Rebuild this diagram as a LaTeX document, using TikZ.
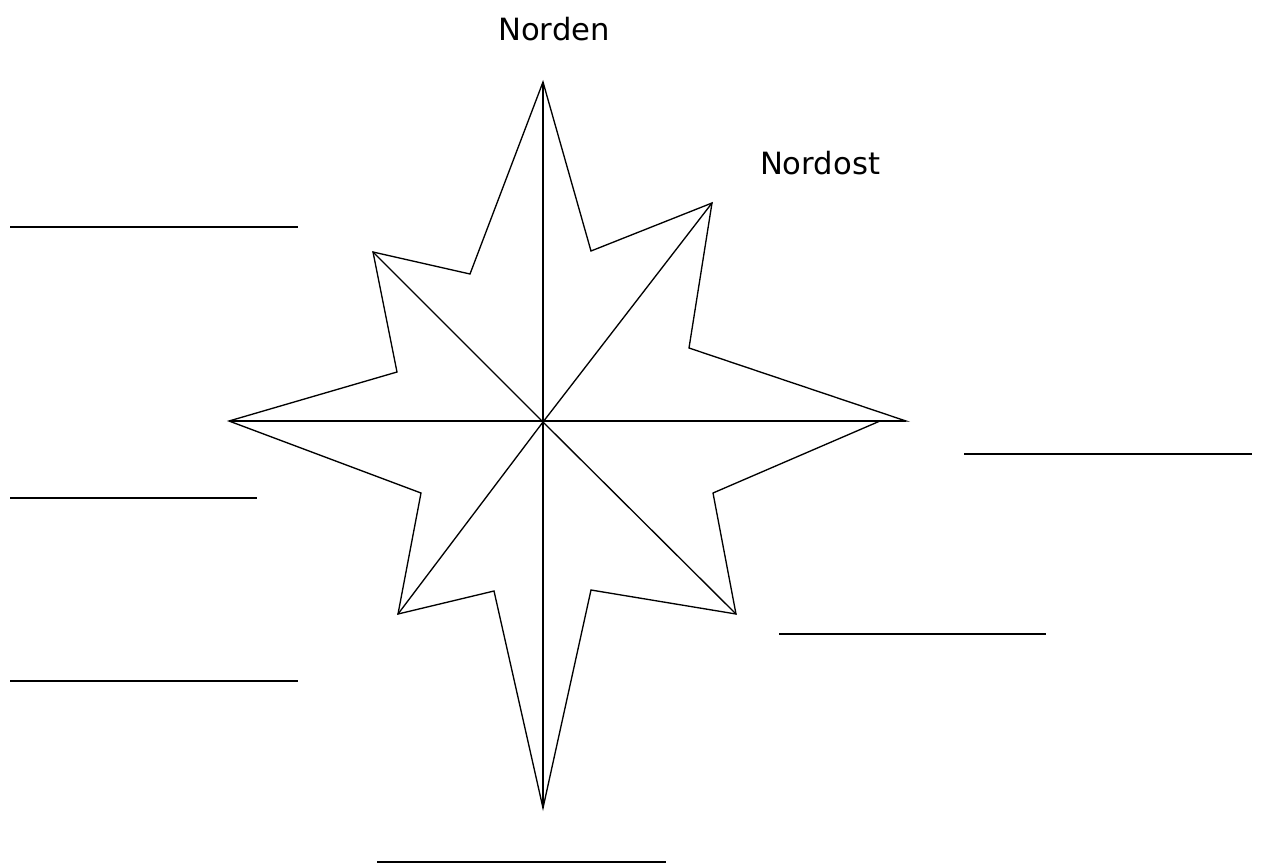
\documentclass[tikz,border=0pt]{standalone}
\usepackage{fontspec}
\setmainfont{DejaVu Sans}
\tikzset{
  starline/.style={line width=1pt, line join=miter},
  blankline/.style={line width=1.6pt},
  direction/.style={font=\fontsize{23}{26}\selectfont, inner sep=0pt}
}
\begin{document}
\begin{tikzpicture}[x=0.75pt,y=-0.75pt]
  \useasboundingbox (0,0) rectangle (1261,865);
  % tips and inner corners of the star
  \coordinate (c) at (543,422);
  \coordinate (N) at (543,82);
  \coordinate (nne) at (591,251);
  \coordinate (NE) at (712,203);
  \coordinate (ene) at (689,348);
  \coordinate (E) at (906,421);
  \coordinate (e2) at (880,421);
  \coordinate (ese) at (713,493);
  \coordinate (SE) at (736,614);
  \coordinate (sse) at (591,590);
  \coordinate (S) at (543,808);
  \coordinate (ssw) at (494,591);
  \coordinate (SW) at (398,614);
  \coordinate (wsw) at (421,493);
  \coordinate (W) at (229,421);
  \coordinate (wnw) at (397,372);
  \coordinate (NW) at (373,252);
  \coordinate (nnw) at (470,274);
  \draw[starline] (N) -- (nne) -- (NE) -- (ene) -- (E) -- (e2) -- (ese) -- (SE)
    -- (sse) -- (S) -- (ssw) -- (SW) -- (wsw) -- (W) -- (wnw) -- (NW) -- (nnw) -- cycle;
  \draw[starline] (N) -- (S);
  \draw[starline] (W) -- (E);
  \draw[starline] (NW) -- (c) -- (SE);
  \draw[starline] (NE) -- (c) -- (SW);
  % labels
  \node[direction] (norden) at (554,29) {Norden};
  \node[direction] (nordost) at (820,163) {Nordost};
  % empty lines to fill in
  \foreach \xa/\xb/\y [count=\i] in {10/298/227, 10/257/498, 10/298/681,
      964/1252/454, 779/1046/634, 377/666/862} {
    \coordinate (blank\i a) at (\xa,\y);
    \coordinate (blank\i b) at (\xb,\y);
    \draw[blankline] (blank\i a) -- (blank\i b);
  }
\end{tikzpicture}
\end{document}
